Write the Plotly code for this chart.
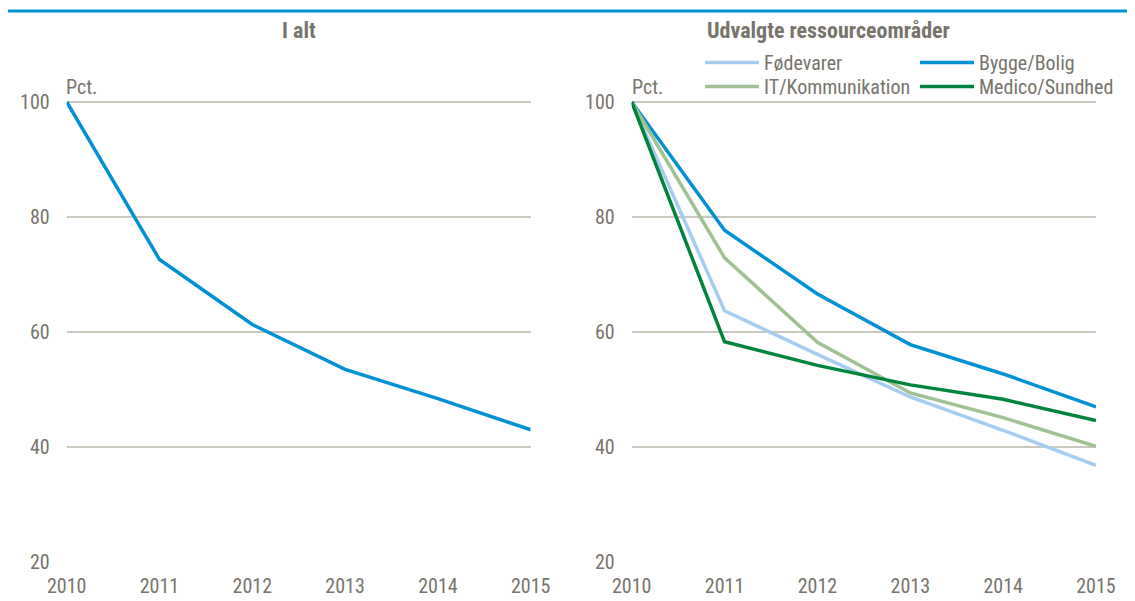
#!/usr/bin/env python3
"""
Index of two panels: total, and selected resource areas (2010 = 100).
"""

import plotly.graph_objects as go
from plotly.subplots import make_subplots

# Data
years = [2010, 2011, 2012, 2013, 2014, 2015]
total = [100, 72.6, 61.3, 53.5, 48.4, 43.0]

series_names = ["Fødevarer", "Bygge/Bolig", "IT/Kommunikation", "Medico/Sundhed"]
foedevarer = [100, 63.7, 56.1, 48.7, 42.9, 36.8]
bygge_bolig = [100, 77.7, 66.6, 57.8, 52.7, 47.0]
it_kommunikation = [100, 72.9, 58.2, 49.4, 45.1, 40.1]
medico_sundhed = [100, 58.3, 54.2, 50.8, 48.3, 44.6]

y_ticks = [20, 40, 60, 80, 100]
panel_titles = ["I alt", "Udvalgte ressourceområder"]
unit_label = "Pct."

# Styling
# the page body has an 8px margin, so the figure is shrunk to fit the window
OFF = 8
W, H = 1135 - OFF, 601 - OFF
FONT = "Liberation Sans Narrow, Arial Narrow, Roboto Condensed, sans-serif"
TEXT = "#77746B"
GRID = "#C9C8BE"
BLUE = "#0091D5"
colors = ["#A5CDEF", BLUE, "#A0C293", "#00843D"]


def px(x):
    # window pixel -> paper x
    return (x - OFF) / W


def py(y):
    # window pixel -> paper y
    return 1 - (y - OFF) / H


fig = make_subplots(rows=1, cols=2, horizontal_spacing=0.05)

# Left panel: total
fig.add_trace(go.Scatter(x=years, y=total, mode="lines",
                         line=dict(color=BLUE, width=3.5),
                         showlegend=False), row=1, col=1)

# Right panel: the four areas
for name, values, color in zip(series_names,
                               [foedevarer, bygge_bolig, it_kommunikation, medico_sundhed],
                               colors):
    fig.add_trace(go.Scatter(x=years, y=values, mode="lines", name=name,
                             line=dict(color=color, width=3.5),
                             showlegend=False), row=1, col=2)

# Axes
x_domains = [[px(66.7), px(530.7)], [px(631.7), px(1096)]]
for i, dom in enumerate(x_domains, start=1):
    fig.update_xaxes(domain=dom, range=[2010, 2015], tickvals=years,
                     showgrid=False, zeroline=False, showline=False,
                     ticks="", ticklabelstandoff=10, automargin=False,
                     tickfont=dict(family=FONT, size=20, color=TEXT),
                     row=1, col=i)
    fig.update_yaxes(domain=[py(562), py(96.25)], range=[20, 101],
                     tickvals=y_ticks, showgrid=True, gridcolor=GRID, gridwidth=1.5,
                     zeroline=False, showline=False, ticks="",
                     ticklabelstandoff=16, automargin=False,
                     tickfont=dict(family=FONT, size=20, color=TEXT),
                     row=1, col=i)

# Blue rule at the top
fig.add_shape(type="line", xref="paper", yref="paper",
              x0=0, x1=1, y0=py(11), y1=py(11),
              line=dict(color=BLUE, width=3))

# Panel titles
fig.add_annotation(text="<b>" + panel_titles[0] + "</b>", xref="paper", yref="paper",
                   x=px(298.7), y=py(30), xanchor="center", yanchor="middle",
                   showarrow=False, font=dict(family=FONT, size=22, color=TEXT))
fig.add_annotation(text="<b>" + panel_titles[1] + "</b>", xref="paper", yref="paper",
                   x=px(705), y=py(30), xanchor="left", yanchor="middle",
                   showarrow=False, font=dict(family=FONT, size=22, color=TEXT))

# Unit labels
for x0 in [64, 630]:
    fig.add_annotation(text=unit_label, xref="paper", yref="paper",
                       x=px(x0), y=py(87), xanchor="left", yanchor="middle",
                       showarrow=False, font=dict(family=FONT, size=20, color=TEXT))

# Legend drawn by hand: two columns, two rows
legend_pos = [(705, 62.5), (920, 62.5), (705, 86.5), (920, 86.5)]
for (lx, ly), name, color in zip(legend_pos, series_names, colors):
    fig.add_shape(type="line", xref="paper", yref="paper",
                  x0=px(lx), x1=px(lx + 54), y0=py(ly), y1=py(ly),
                  line=dict(color=color, width=3.5))
    fig.add_annotation(text=name, xref="paper", yref="paper",
                       x=px(lx + 57), y=py(ly), xanchor="left", yanchor="middle",
                       showarrow=False, font=dict(family=FONT, size=20, color=TEXT))

fig.update_layout(
    width=W, height=H,
    margin=dict(l=0, r=0, t=0, b=0, pad=0),
    paper_bgcolor="white", plot_bgcolor="white",
    font=dict(family=FONT, size=20, color=TEXT),
)

fig.write_html("out.html")
